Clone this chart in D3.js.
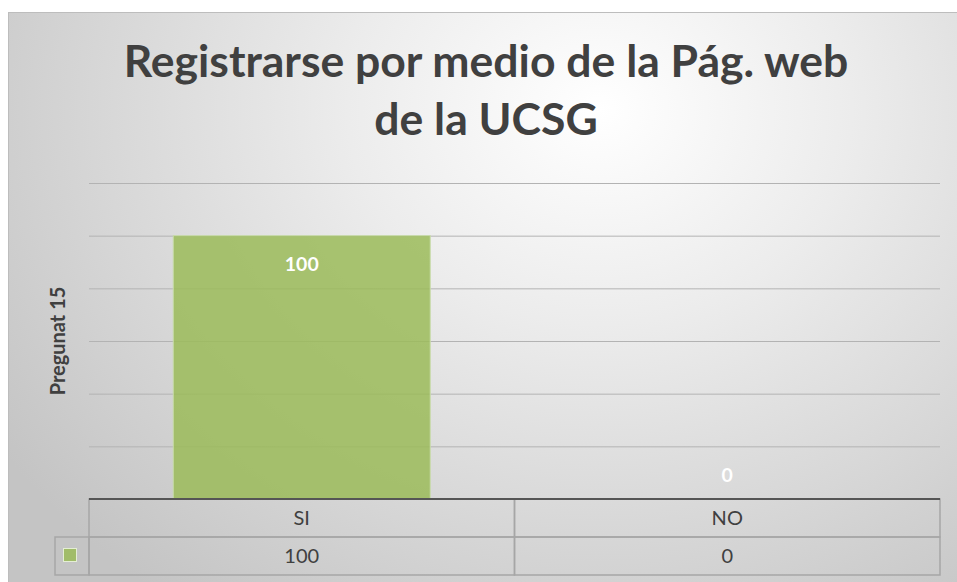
<!DOCTYPE html>
<html>
<head>
<meta charset="utf-8">
<script src="https://cdn.jsdelivr.net/npm/d3@7"></script>
<style>
  html, body { margin: 0; padding: 0; background: #ffffff; }
  svg { display: block; }
</style>
</head>
<body>
<svg id="chart" width="957" height="582"></svg>
<script>
// ---- data ----
const titleLines = ["Registrarse por medio de la Pág. web", "de la UCSG"];
const yAxisTitle = "Pregunat 15";
const categories = ["SI", "NO"];
const values = [100, 0];
const yTicks = [0, 20, 40, 60, 80, 100, 120];

// ---- layout ----
const W = 957, H = 582;
const plot = { left: 89, right: 940, top: 183, bottom: 499 };
const rowH = 38;
const legendLeft = 55;
const font = "Lato, 'Open Sans', sans-serif";
const textColor = "#404040";

const svg = d3.select("#chart");
const defs = svg.append("defs");
const grad = defs.append("radialGradient")
  .attr("id", "bg").attr("gradientUnits", "userSpaceOnUse")
  .attr("cx", 600).attr("cy", 110).attr("r", 720)
  .attr("gradientTransform", "translate(600,110) scale(1,0.85) translate(-600,-110)");
grad.append("stop").attr("offset", "0%").attr("stop-color", "#ffffff");
grad.append("stop").attr("offset", "35%").attr("stop-color", "#ececec");
grad.append("stop").attr("offset", "100%").attr("stop-color", "#c4c4c4");

svg.append("rect").attr("x", 8.5).attr("y", 12.5).attr("width", W).attr("height", H)
  .attr("fill", "url(#bg)").attr("stroke", "#bdbdbd").attr("stroke-width", 1);

// ---- scales ----
const y = d3.scaleLinear().domain([0, 120]).range([plot.bottom, plot.top]);
const p = 0.396;
const x = d3.scaleBand().domain(categories).range([plot.left, plot.right])
  .paddingInner(p).paddingOuter(p / 2);
const xCol = d3.scaleBand().domain(categories).range([plot.left, plot.right]);

// ---- gridlines ----
const grid = svg.append("g")
  .attr("transform", `translate(${plot.left},0)`)
  .call(d3.axisLeft(y).tickValues(yTicks.filter(t => t > 0))
    .tickSize(-(plot.right - plot.left)).tickFormat(""));
grid.select(".domain").remove();
grid.selectAll(".tick line").attr("stroke", "#b3b3b3").attr("stroke-width", 1);

// ---- bars ----
svg.append("g").selectAll("rect").data(categories).join("rect")
  .attr("x", d => x(d))
  .attr("y", (d, i) => y(values[i]))
  .attr("width", x.bandwidth())
  .attr("height", (d, i) => y(0) - y(values[i]))
  .attr("fill", "#9bbb59").attr("fill-opacity", 0.85)
  .attr("stroke", "#c9dcaa").attr("stroke-width", 1);

// ---- data labels ----
svg.append("g").selectAll("text").data(categories).join("text")
  .attr("x", d => x(d) + x.bandwidth() / 2)
  .attr("y", (d, i) => values[i] > 0 ? y(values[i]) + 35 : y(0) - 17)
  .attr("text-anchor", "middle")
  .attr("font-family", font).attr("font-weight", "bold").attr("font-size", 19.5)
  .attr("fill", "#ffffff")
  .text((d, i) => values[i]);

// ---- data table ----
const tbl = svg.append("g");
const tStroke = "#a6a6a6";
tbl.selectAll("rect.cat").data(categories).join("rect").attr("class", "cat")
  .attr("x", d => xCol(d)).attr("y", plot.bottom).attr("width", xCol.bandwidth()).attr("height", rowH)
  .attr("fill", "none").attr("stroke", tStroke).attr("stroke-width", 1.5);
tbl.append("rect").attr("x", legendLeft).attr("y", plot.bottom + rowH)
  .attr("width", plot.left - legendLeft).attr("height", rowH)
  .attr("fill", "none").attr("stroke", tStroke).attr("stroke-width", 1.5);
tbl.selectAll("rect.val").data(categories).join("rect").attr("class", "val")
  .attr("x", d => xCol(d)).attr("y", plot.bottom + rowH).attr("width", xCol.bandwidth()).attr("height", rowH)
  .attr("fill", "none").attr("stroke", tStroke).attr("stroke-width", 1.5);
tbl.selectAll("text.cat").data(categories).join("text").attr("class", "cat")
  .attr("x", d => xCol(d) + xCol.bandwidth() / 2).attr("y", plot.bottom + 26)
  .attr("text-anchor", "middle").attr("font-family", font).attr("font-size", 20)
  .attr("fill", textColor).text(d => d);
tbl.selectAll("text.val").data(categories).join("text").attr("class", "val")
  .attr("x", d => xCol(d) + xCol.bandwidth() / 2).attr("y", plot.bottom + rowH + 26)
  .attr("text-anchor", "middle").attr("font-family", font).attr("font-size", 20)
  .attr("fill", textColor).text((d, i) => values[i]);
// legend key
tbl.append("rect").attr("x", 63.5).attr("y", plot.bottom + rowH + 11.5).attr("width", 13).attr("height", 13)
  .attr("fill", "#9bbb59").attr("fill-opacity", 0.85).attr("stroke", "#e4eed4").attr("stroke-width", 1);

// baseline
svg.append("line").attr("x1", plot.left).attr("x2", plot.right)
  .attr("y1", y(0)).attr("y2", y(0)).attr("stroke", "#555555").attr("stroke-width", 2);

// ---- y-axis title ----
svg.append("text")
  .attr("transform", `translate(65,${(plot.top + plot.bottom) / 2}) rotate(-90)`)
  .attr("text-anchor", "middle").attr("font-family", font).attr("font-weight", "bold")
  .attr("font-size", 20).attr("fill", textColor).text(yAxisTitle);

// ---- title ----
const titleCx = 486;
const title = svg.append("g").attr("font-family", font).attr("font-weight", "bold").attr("fill", textColor);
const t1 = title.append("text").attr("x", titleCx).attr("y", 77).attr("text-anchor", "middle")
  .attr("font-size", 40).text(titleLines[0]);
const w1 = t1.node().getComputedTextLength();
const fs = 40 * 725 / w1;
t1.attr("font-size", fs);
title.append("text").attr("x", titleCx).attr("y", 135).attr("text-anchor", "middle")
  .attr("font-size", fs).text(titleLines[1]);
</script>
</body>
</html>
